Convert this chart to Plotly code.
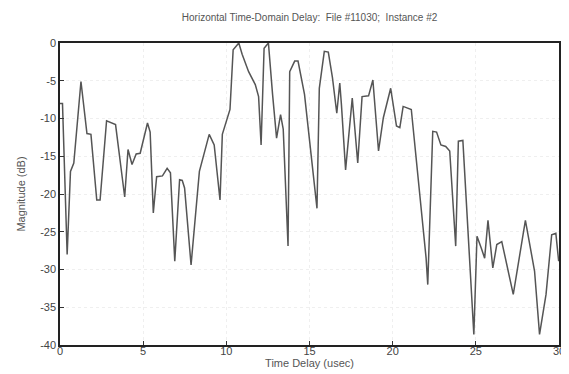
import plotly.graph_objects as go

time_delay = [0.0, 0.15, 0.43, 0.63, 0.83, 1.07, 1.26, 1.62, 1.86, 2.21, 2.41, 2.80, 3.34,
              3.89, 4.09, 4.33, 4.58, 4.82, 5.26, 5.42, 5.61, 5.81, 6.16, 6.44, 6.64, 6.90,
              7.19, 7.35, 7.49, 7.88, 8.38, 8.97, 9.27, 9.62, 9.76, 10.22, 10.41, 10.75, 10.95,
              11.34, 11.74, 11.94, 12.09, 12.27, 12.53, 12.78, 13.02, 13.26, 13.42, 13.71,
              13.81, 14.11, 14.31, 14.70, 15.45, 15.59, 15.89, 16.13, 16.38, 16.64, 16.82,
              16.92, 17.17, 17.57, 17.90, 18.16, 18.55, 18.81, 19.15, 19.44, 19.88, 20.23,
              20.43, 20.63, 21.12, 22.01, 22.11, 22.41, 22.64, 22.90, 23.19, 23.43, 23.79,
              23.95, 24.22, 24.88, 25.07, 25.33, 25.53, 25.73, 25.87, 26.02, 26.26, 26.56,
              27.25, 27.98, 28.53, 28.83, 29.22, 29.56, 29.81, 29.98]
magnitude = [-8.0, -8.0, -28.0, -17.0, -15.9, -10.4, -5.1, -12.0, -12.1, -20.8, -20.8, -10.3, -10.8,
             -20.4, -14.1, -16.1, -14.7, -14.6, -10.6, -11.8, -22.5, -17.7, -17.6, -16.6, -17.2, -28.9,
             -18.1, -18.2, -19.2, -29.4, -17.0, -12.1, -13.5, -20.8, -12.1, -8.8, -0.9, 0.0, -1.5,
             -3.8, -5.5, -7.1, -13.5, -0.7, 0.0, -6.8, -12.6, -9.5, -11.4, -26.9,
             -3.8, -2.4, -2.4, -6.8, -21.9, -6.0, -1.1, -1.2, -4.6, -9.3, -5.3,
             -8.2, -16.8, -7.3, -15.9, -7.1, -7.0, -4.9, -14.3, -9.9, -6.0, -11.0,
             -11.2, -8.4, -8.8, -28.5, -32.0, -11.7, -11.8, -13.5, -13.7, -14.3, -26.9,
             -13.0, -12.9, -38.6, -25.6, -27.2, -28.5, -23.5, -26.9, -29.8, -26.7, -26.3,
             -33.3, -23.5, -30.2, -38.6, -33.3, -25.4, -25.2, -28.9]

x_ticks = [0, 5, 10, 15, 20, 25, 30]
y_ticks = [0, -5, -10, -15, -20, -25, -30, -35, -40]

FONT = "Liberation Sans, Arial"

fig = go.Figure()
fig.add_trace(go.Scatter(x=time_delay, y=magnitude, mode="lines",
                         line=dict(color="#555555", width=1.5), showlegend=False))

axis_common = dict(showline=True, linecolor="#222222", linewidth=1.5, mirror=True,
                   ticks="inside", ticklen=4, tickcolor="#333333",
                   showgrid=True, gridcolor="#efefef", griddash="dot", gridwidth=1,
                   zeroline=False, tickfont=dict(family=FONT, size=11, color="#444444"))

fig.update_layout(
    width=569, height=374,
    margin=dict(l=52, r=12, t=35, b=37),
    paper_bgcolor="white", plot_bgcolor="white",
    title=dict(text="Horizontal Time-Domain Delay:  File #11030;  Instance #2",
               x=0.53, xanchor="center", yref="container", y=0.975, yanchor="middle",
               font=dict(family=FONT, size=10, color="#555555")),
    xaxis=dict(range=[0, 30], tickvals=x_ticks, ticktext=[str(v) for v in x_ticks],
               ticklabelstandoff=-5, ticklabeloverflow="allow",
               title=dict(text="Time Delay (usec)", standoff=0,
                          font=dict(family=FONT, size=11, color="#555555")),
               **axis_common),
    yaxis=dict(range=[-40, 0], tickvals=y_ticks, ticktext=[str(v) for v in y_ticks],
               title=dict(text="Magnitude (dB)", standoff=12,
                          font=dict(family=FONT, size=11, color="#555555")),
               **axis_common),
)

fig.write_html("out.html")
